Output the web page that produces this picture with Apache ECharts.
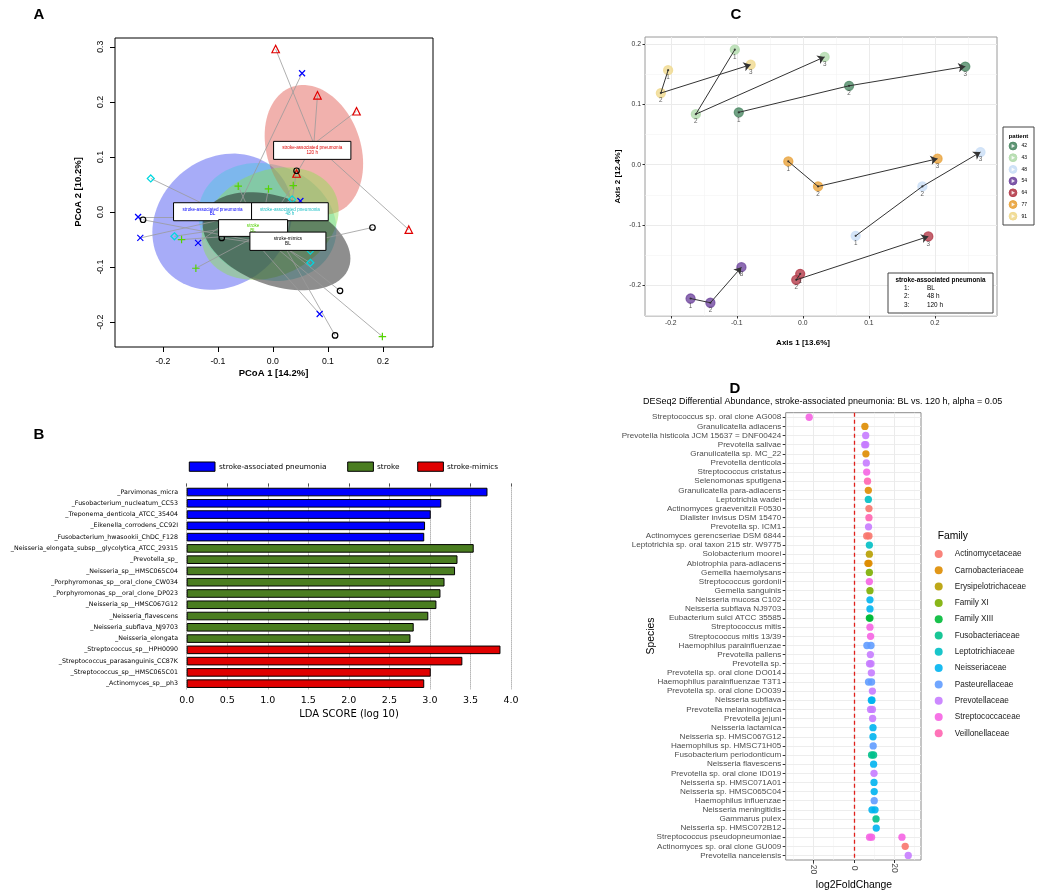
<!DOCTYPE html>
<html><head><meta charset="utf-8">
<script src="https://cdn.jsdelivr.net/npm/echarts@6/dist/echarts.min.js"></script>
<style>html,body{margin:0;padding:0;background:#fff}#c{width:1039px;height:896px}</style>
</head><body><div id="c"></div>
<script>
// ================= Panel A : PCoA =================
const aGroupNames = ['stroke-associated pneumonia BL','stroke-associated pneumonia 48 h','stroke-associated pneumonia 120 h','stroke BL','stroke-mimics BL'];
const aSapBlX = [0.053,-0.245,-0.241,-0.136,0.050,0.085];
const aSapBlY = [0.252,-0.009,-0.047,-0.056,0.020,-0.185];
const aSap48X = [-0.222,-0.179,0.035,0.068,0.068];
const aSap48Y = [0.061,-0.044,0.023,-0.070,-0.092];
const aSap120X = [0.005,0.081,0.152,0.043,0.247];
const aSap120Y = [0.296,0.212,0.183,0.070,-0.032];
const aStrokeX = [-0.063,-0.008,0.037,-0.166,-0.140,0.199];
const aStrokeY = [0.047,0.042,0.048,-0.050,-0.102,-0.226];
const aMimicX = [-0.236,-0.093,0.043,0.181,0.122,0.113];
const aMimicY = [-0.014,-0.047,0.075,-0.028,-0.143,-0.224];
const aCenterX = [-0.072,-0.046,0.0745,-0.0235,0.022];
const aCenterY = [-0.009,-0.024,0.124,-0.040,-0.0635];
const aEllCX = [-0.092,-0.010,0.0745,-0.005,0.0065];
const aEllCY = [-0.0175,-0.018,0.113,-0.021,-0.053];
const aEllA = [0.135,0.128,0.121,0.130,0.140];
const aEllB = [0.115,0.104,0.085,0.095,0.080];
const aEllAng = [40,-20,109,25,-20];
const aLabelX = [-0.1097,0.0309,0.0715,-0.036,0.0273];
const aLabelY = [0.0006,0.0006,0.112,-0.029,-0.053];
const aLabelLine1 = ['stroke-associated pneumonia','stroke-associated pneumonia','stroke-associated pneumonia','stroke','stroke-mimics'];
const aLabelLine2 = ['BL','48 h','120 h','BL','BL'];
const aXTicks = [-0.2,-0.1,0.0,0.1,0.2];
const aYTicks = [-0.2,-0.1,0.0,0.1,0.2,0.3];

// ================= Panel B : LEfSe =================
const bTaxa = ['_Parvimonas_micra','_Fusobacterium_nucleatum_CC53','_Treponema_denticola_ATCC_35404','_Eikenella_corrodens_CC92I','_Fusobacterium_hwasookii_ChDC_F128','_Neisseria_elongata_subsp__glycolytica_ATCC_29315','_Prevotella_sp_','_Neisseria_sp__HMSC065C04','_Porphyromonas_sp__oral_clone_CW034','_Porphyromonas_sp__oral_clone_DP023','_Neisseria_sp__HMSC067G12','_Neisseria_flavescens','_Neisseria_subflava_NJ9703','_Neisseria_elongata','_Streptococcus_sp__HPH0090','_Streptococcus_parasanguinis_CC87K','_Streptococcus_sp__HMSC065C01','_Actinomyces_sp__ph3'];
const bLda = [3.71,3.14,3.01,2.94,2.93,3.54,3.34,3.31,3.18,3.13,3.08,2.98,2.80,2.76,3.87,3.40,3.01,2.93];
const bClass = ['stroke-associated pneumonia','stroke-associated pneumonia','stroke-associated pneumonia','stroke-associated pneumonia','stroke-associated pneumonia','stroke','stroke','stroke','stroke','stroke','stroke','stroke','stroke','stroke','stroke-mimics','stroke-mimics','stroke-mimics','stroke-mimics'];
const bClasses = ['stroke-associated pneumonia','stroke','stroke-mimics'];

// ================= Panel C : patient trajectories =================
const cPatients = ['42','43','48','54','64','77','91'];
const cVisits = ['1','2','3'];
const cAxis1 = [[-0.097,0.070,0.246],[-0.103,-0.162,0.033],[0.080,0.181,0.269],[-0.170,-0.140,-0.093],[-0.004,-0.010,0.190],[-0.022,0.023,0.204],[-0.204,-0.215,-0.079]];
const cAxis2 = [[0.087,0.131,0.163],[0.191,0.084,0.179],[-0.118,-0.036,0.021],[-0.222,-0.229,-0.170],[-0.181,-0.191,-0.119],[0.0055,-0.036,0.010],[0.157,0.119,0.166]];
const cXTicks = [-0.2,-0.1,0.0,0.1,0.2];
const cYTicks = [-0.2,-0.1,0.0,0.1,0.2];
const cXMinor = [-0.15,-0.05,0.05,0.15,0.25];
const cYMinor = [-0.25,-0.15,-0.05,0.05,0.15];
const cVisitNames = ['BL','48 h','120 h'];

// ================= Panel D : DESeq2 =================
const dSpecies = ['Streptococcus sp. oral clone AG008','Granulicatella adiacens','Prevotella histicola JCM 15637 = DNF00424','Prevotella salivae','Granulicatella sp. MC_22','Prevotella denticola','Streptococcus cristatus','Selenomonas sputigena','Granulicatella para-adiacens','Leptotrichia wadei','Actinomyces graevenitzii F0530','Dialister invisus DSM 15470','Prevotella sp. ICM1','Actinomyces gerencseriae DSM 6844','Leptotrichia sp. oral taxon 215 str. W9775','Solobacterium moorei','Abiotrophia para-adiacens','Gemella haemolysans','Streptococcus gordonii','Gemella sanguinis','Neisseria mucosa C102','Neisseria subflava NJ9703','Eubacterium sulci ATCC 35585','Streptococcus mitis','Streptococcus mitis 13/39','Haemophilus parainfluenzae','Prevotella pallens','Prevotella sp.','Prevotella sp. oral clone DO014','Haemophilus parainfluenzae T3T1','Prevotella sp. oral clone DO039','Neisseria subflava','Prevotella melaninogenica','Prevotella jejuni','Neisseria lactamica','Neisseria sp. HMSC067G12','Haemophilus sp. HMSC71H05','Fusobacterium periodonticum','Neisseria flavescens','Prevotella sp. oral clone ID019','Neisseria sp. HMSC071A01','Neisseria sp. HMSC065C04','Haemophilus influenzae','Neisseria meningitidis','Gammarus pulex','Neisseria sp. HMSC072B12','Streptococcus pseudopneumoniae','Actinomyces sp. oral clone GU009','Prevotella nanceiensis'];
const dFamily = ['Streptococcaceae','Carnobacteriaceae','Prevotellaceae','Prevotellaceae','Carnobacteriaceae','Prevotellaceae','Streptococcaceae','Veillonellaceae','Carnobacteriaceae','Leptotrichiaceae','Actinomycetaceae','Veillonellaceae','Prevotellaceae','Actinomycetaceae','Leptotrichiaceae','Erysipelotrichaceae','Carnobacteriaceae','Family XI','Streptococcaceae','Family XI','Neisseriaceae','Neisseriaceae','Family XIII','Streptococcaceae','Streptococcaceae','Pasteurellaceae','Prevotellaceae','Prevotellaceae','Prevotellaceae','Pasteurellaceae','Prevotellaceae','Neisseriaceae','Prevotellaceae','Prevotellaceae','Neisseriaceae','Neisseriaceae','Pasteurellaceae','Fusobacteriaceae','Neisseriaceae','Prevotellaceae','Neisseriaceae','Neisseriaceae','Pasteurellaceae','Neisseriaceae','Fusobacteriaceae','Neisseriaceae','Streptococcaceae','Actinomycetaceae','Prevotellaceae'];
const dLfc = [[-22.1],[5.4],[5.8],[5.3,5.8],[5.9],[6.1],[6.3],[6.7],[7.1],[7.1],[7.4],[7.4],[7.2],[6.3,7.4],[7.6],[7.6],[6.9,7.4],[7.6],[7.6],[7.9],[7.9],[7.9],[7.6,7.9],[7.9],[8.2],[6.4,8.4],[8.1],[7.7,8.4],[8.6],[7.2,8.7],[9.1],[8.6,8.9],[8.2,9.1],[9.2],[9.4],[9.4],[9.5],[8.7,9.7],[9.7],[9.9],[9.9],[10.0],[10.0],[8.9,10.4],[10.9],[11.0],[7.7,8.7,23.7],[25.3],[26.8]];
const dFamilies = ['Actinomycetaceae','Carnobacteriaceae','Erysipelotrichaceae','Family XI','Family XIII','Fusobacteriaceae','Leptotrichiaceae','Neisseriaceae','Pasteurellaceae','Prevotellaceae','Streptococcaceae','Veillonellaceae'];
const dXTicks = [-20,0,20];
const dXMinor = [-30,-10,10,30];

// ================= styles =================
const FONT = '"Liberation Sans", Arial, sans-serif';
const FONTB = '"DejaVu Sans", sans-serif';
const aColors = ['#0000ff','#00d8e0','#e00000','#55d400','#000000'];
const aSymbols = ['path://M0,0L10,10M10,0L0,10','diamond','triangle','path://M5,0L5,10M0,5L10,5','circle'];
const aSizes = [6,7,7.5,7.5,5.5];
const aEllColors = ['rgba(60,70,240,0.45)','rgba(40,205,215,0.33)','rgba(220,60,50,0.40)','rgba(140,225,80,0.45)','rgba(30,30,30,0.50)'];
const aBoxW = [78,76.7,77.3,69,76];
const aBoxH = [18,18,18,16.7,18.3];
const aTextColors = ['#0000ff','#1fc0c6','#e00000','#52d000','#000000'];
const bColors = ['#0000ff','#4a7d20','#e00000'];
const cColors = ['#4f8a66','#b2dbad','#cadff6','#71479f','#b43c4b','#e9a33c','#f0d98f'];
const dColors = ['#F8766D','#DE8C00','#B79F00','#7CAE00','#00BA38','#00C08B','#00BFC4','#00B4F0','#619CFF','#C77CFF','#F564E3','#FF64B0'];

const fmt1 = v => (Math.abs(v) < 1e-9 ? 0 : v).toFixed(1);
const NOLINE = {show:false, onZero:false};

// ---------- series ----------
const series = [];
// A ellipses
series.push({
  type:'custom', xAxisIndex:0, yAxisIndex:0, z:1, silent:true, clip:true,
  data: aEllCX.map((x,i)=>[x, aEllCY[i], aEllA[i], aEllB[i], aEllAng[i]]),
  renderItem:(params, api)=>{
    const cx=api.value(0), cy=api.value(1), a=api.value(2), b=api.value(3), ang=api.value(4)*Math.PI/180;
    const pts=[];
    for(let k=0;k<90;k++){
      const t=k/90*2*Math.PI;
      const x=cx+a*Math.cos(t)*Math.cos(ang)-b*Math.sin(t)*Math.sin(ang);
      const y=cy+a*Math.cos(t)*Math.sin(ang)+b*Math.sin(t)*Math.cos(ang);
      pts.push(api.coord([x,y]));
    }
    return {type:'polygon', shape:{points:pts}, style:{fill:aEllColors[params.dataIndex]}};
  }
});
// A spider lines
const aPts = [[aSapBlX,aSapBlY],[aSap48X,aSap48Y],[aSap120X,aSap120Y],[aStrokeX,aStrokeY],[aMimicX,aMimicY]];
const spider = [];
aPts.forEach((g,gi)=>g[0].forEach((x,k)=>spider.push({coords:[[x,g[1][k]],[aCenterX[gi],aCenterY[gi]]]})));
series.push({type:'lines', coordinateSystem:'cartesian2d', xAxisIndex:0, yAxisIndex:0, z:2, silent:true,
  lineStyle:{color:'#9a9a9a', width:0.8, opacity:1}, data:spider});
// A points
aPts.forEach((g,gi)=>{
  series.push({type:'scatter', name:aGroupNames[gi], xAxisIndex:0, yAxisIndex:0, z:3, silent:true,
    symbol:aSymbols[gi], symbolSize:aSizes[gi],
    itemStyle:{color:'transparent', borderColor:aColors[gi], borderWidth:1.2, opacity:1},
    data:g[0].map((x,k)=>[x,g[1][k]])});
});
// A label boxes
series.push({
  type:'custom', xAxisIndex:0, yAxisIndex:0, z:5, silent:true, clip:false,
  data: aLabelX.map((x,i)=>[x, aLabelY[i]]),
  renderItem:(params, api)=>{
    const i=params.dataIndex; const p=api.coord([api.value(0), api.value(1)]);
    const w=aBoxW[i], h=aBoxH[i];
    return {type:'group', children:[
      {type:'rect', shape:{x:p[0]-w/2, y:p[1]-h/2, width:w, height:h}, style:{fill:'#fff', stroke:'#000', lineWidth:1}},
      {type:'text', style:{text:aLabelLine1[i], x:p[0], y:p[1]-2.4, align:'center', verticalAlign:'middle', fill:aTextColors[i], font:'4.6px "Liberation Sans", Arial'}},
      {type:'text', style:{text:aLabelLine2[i], x:p[0], y:p[1]+2.4, align:'center', verticalAlign:'middle', fill:aTextColors[i], font:'4.6px "Liberation Sans", Arial'}}
    ]};
  }
});

// B bars
bClasses.forEach((cls,ci)=>{
  series.push({type:'bar', name:cls, xAxisIndex:1, yAxisIndex:1, barWidth:8.6, barGap:'-100%', z:3, silent:true,
    itemStyle:{color:bColors[ci], borderColor:'#000', borderWidth:1},
    data:bLda.map((v,i)=> bClass[i]===cls ? v : null)});
});

// C grid lines
const cGrid = [];
cXMinor.forEach(v=>cGrid.push({xAxis:v, lineStyle:{color:'#f4f4f4', width:0.6, type:'solid'}}));
cYMinor.forEach(v=>cGrid.push({yAxis:v, lineStyle:{color:'#f4f4f4', width:0.6, type:'solid'}}));
cXTicks.forEach(v=>cGrid.push({xAxis:v, lineStyle:{color:'#ebebeb', width:1, type:'solid'}}));
cYTicks.forEach(v=>cGrid.push({yAxis:v, lineStyle:{color:'#ebebeb', width:1, type:'solid'}}));
series.push({type:'scatter', xAxisIndex:3, yAxisIndex:2, z:1, silent:true, data:[],
  markLine:{z:1, silent:true, symbol:'none', label:{show:false}, animation:false, data:cGrid}});
// C points
cPatients.forEach((p,pi)=>{
  series.push({type:'scatter', name:'patient '+p, xAxisIndex:3, yAxisIndex:2, z:2, silent:true,
    symbolSize:9,
    itemStyle:{color:cColors[pi], opacity:0.8, borderColor:cColors[pi], borderWidth:1.3},
    label:{show:true, position:'inside', offset:[0,7.5], formatter:q=>cVisits[q.dataIndex], fontSize:6.3, color:'#333', fontFamily:FONT},
    data:cAxis1[pi].map((x,k)=>[x,cAxis2[pi][k]])});
});
// C path segments
const cSeg1 = [], cSeg2 = [], cDots = [];
cPatients.forEach((p,pi)=>{
  cSeg1.push({coords:[[cAxis1[pi][0],cAxis2[pi][0]],[cAxis1[pi][1],cAxis2[pi][1]]]});
  cSeg2.push({coords:[[cAxis1[pi][1],cAxis2[pi][1]],[cAxis1[pi][2],cAxis2[pi][2]]]});
  cDots.push([cAxis1[pi][0],cAxis2[pi][0]],[cAxis1[pi][1],cAxis2[pi][1]]);
});
series.push({type:'lines', coordinateSystem:'cartesian2d', xAxisIndex:3, yAxisIndex:2, z:3, silent:true,
  symbol:['none','none'], lineStyle:{color:'#333', width:1, opacity:1}, data:cSeg1});
series.push({type:'lines', coordinateSystem:'cartesian2d', xAxisIndex:3, yAxisIndex:2, z:3, silent:true,
  symbol:['none','arrow'], symbolSize:7, lineStyle:{color:'#333', width:1, opacity:1}, data:cSeg2});
series.push({type:'scatter', xAxisIndex:3, yAxisIndex:2, z:4, silent:true, symbolSize:2.2,
  itemStyle:{color:'#222'}, data:cDots});

// D grid lines
const dGrid = [];
dXMinor.forEach(v=>dGrid.push({xAxis:v, lineStyle:{color:'#f3f3f3', width:0.6, type:'solid'}}));
dXTicks.forEach(v=>dGrid.push({xAxis:v, lineStyle:{color:'#ebebeb', width:1, type:'solid'}}));
dSpecies.forEach(s=>dGrid.push({yAxis:s, lineStyle:{color:'#ebebeb', width:0.9, type:'solid'}}));
series.push({type:'scatter', xAxisIndex:4, yAxisIndex:3, z:1, silent:true, data:[],
  markLine:{z:1, silent:true, symbol:'none', label:{show:false}, animation:false, data:dGrid}});
series.push({type:'scatter', xAxisIndex:4, yAxisIndex:3, z:2, silent:true, data:[],
  markLine:{z:2, silent:true, symbol:'none', label:{show:false}, animation:false,
    data:[{xAxis:0, lineStyle:{color:'#e0201b', width:1.3, type:[4,3]}}]}});
dFamilies.forEach((fam,fi)=>{
  const pts=[];
  dSpecies.forEach((s,i)=>{ if(dFamily[i]===fam) dLfc[i].forEach(v=>pts.push([v,s])); });
  series.push({type:'scatter', name:fam, xAxisIndex:4, yAxisIndex:3, z:4, silent:true,
    symbolSize:7.3, itemStyle:{color:dColors[fi], opacity:0.9}, data:pts});
});

// ---------- graphics ----------
const G = [];
function txt(text, x, y, font, o={}){
  G.push({type:'text', x:x, y:y, rotation:o.rot||0, z:100, silent:true,
    style:{text:text, font:font, fill:o.fill||'#000', align:o.align||'center', verticalAlign:o.va||'middle',
      textAlign:o.align||'center', textVerticalAlign:o.va||'middle'}});
}
txt('A', 39, 15, 'bold 15px "Liberation Sans", Arial');
txt('B', 39, 435, 'bold 15px "Liberation Sans", Arial');
txt('C', 736, 15, 'bold 15px "Liberation Sans", Arial');
txt('D', 735, 389, 'bold 15px "Liberation Sans", Arial');
// A titles
txt('PCoA 1 [14.2%]', 273.5, 373, 'bold 9.5px "Liberation Sans", Arial');
txt('PCoA 2 [10.2%]', 78, 192, 'bold 9.5px "Liberation Sans", Arial', {rot:Math.PI/2});
// B legend & title
const bLegX = [189.3, 347.7, 417.7];
const bLegTX = [219, 377, 447];
bClasses.forEach((c,ci)=>{
  G.push({type:'rect', z:100, silent:true, shape:{x:bLegX[ci], y:462, width:25.7, height:9.3}, style:{fill:bColors[ci], stroke:'#000', lineWidth:1}});
  txt(c, bLegTX[ci], 467, '7.3px "DejaVu Sans", sans-serif', {align:'left'});
});
txt('LDA SCORE (log 10)', 349, 714, '10px "DejaVu Sans", sans-serif');
// C titles & legends
txt('Axis 1 [13.6%]', 803, 343, 'bold 8px "Liberation Sans", Arial');
txt('Axis 2 [12.4%]', 618, 176.5, 'bold 8px "Liberation Sans", Arial', {rot:Math.PI/2});
G.push({type:'rect', z:100, silent:true, shape:{x:888, y:273, width:105, height:40}, style:{fill:'#fff', stroke:'#444', lineWidth:1}});
txt('stroke-associated pneumonia', 940.5, 280, 'bold 6.4px "Liberation Sans", Arial');
cVisitNames.forEach((n,i)=>{
  txt(cVisits[i]+':', 904, 288.3+i*8.4, '6.4px "Liberation Sans", Arial', {align:'left'});
  txt(n, 927, 288.3+i*8.4, '6.4px "Liberation Sans", Arial', {align:'left'});
});
G.push({type:'rect', z:100, silent:true, shape:{x:1003, y:127, width:31, height:98}, style:{fill:'#fff', stroke:'#444', lineWidth:1}});
txt('patient', 1018.5, 136, 'bold 6px "Liberation Sans", Arial');
cPatients.forEach((p,i)=>{
  const y = 146 + i*11.7;
  G.push({type:'circle', z:100, silent:true, shape:{cx:1013, cy:y, r:3.9}, style:{fill:cColors[i], stroke:cColors[i], lineWidth:1, opacity:0.9}});
  G.push({type:'polygon', z:101, silent:true, shape:{points:[[1011.6,y-2],[1011.6,y+2],[1015,y]]}, style:{fill:'#fff', opacity:0.85}});
  txt(p, 1021.5, y, '5px "Liberation Sans", Arial', {align:'left'});
});
// D titles
txt('DESeq2 Differential Abundance, stroke-associated pneumonia: BL vs. 120 h, alpha = 0.05', 643, 402, '9px "Liberation Sans", Arial', {align:'left'});
txt('Species', 651, 636, '10.4px "Liberation Sans", Arial', {rot:Math.PI/2});
txt('log2FoldChange', 854, 885, '10.4px "Liberation Sans", Arial');
txt('Family', 937.7, 536, '10.3px "Liberation Sans", Arial', {align:'left'});

// ---------- option ----------
const option = {
  animation:false, backgroundColor:'#fff', textStyle:{fontFamily:FONT},
  grid:[
    {left:115, top:38, width:318, height:309, show:true, borderColor:'#000', borderWidth:1},
    {left:186.7, top:486.4, width:324.3, height:202.9, show:false},
    {left:645, top:37, width:352, height:279, show:true, borderColor:'#9a9a9a', borderWidth:1},
    {left:785.7, top:412.7, width:135.3, height:447.3, show:true, borderColor:'#8c8c8c', borderWidth:1}
  ],
  xAxis:[
    {gridIndex:0, type:'value', min:-0.287, max:0.291, axisLine:NOLINE, splitLine:{show:false},
      axisTick:{show:true, customValues:aXTicks, length:5, lineStyle:{color:'#000'}},
      axisLabel:{customValues:aXTicks, formatter:fmt1, fontSize:8.7, color:'#000', margin:10, fontFamily:FONT}},
    {gridIndex:1, type:'value', min:0, max:4, interval:0.5, position:'bottom', axisLine:NOLINE, axisTick:{show:false},
      splitLine:{show:true, lineStyle:{type:'dotted', color:'#8a8a8a', width:1}},
      axisLabel:{formatter:fmt1, fontSize:9.5, fontFamily:FONTB, color:'#000', margin:6}},
    {gridIndex:1, type:'value', min:0, max:4, interval:0.5, position:'top', axisLine:NOLINE,
      axisTick:{show:true, length:3, lineStyle:{color:'#555'}}, axisLabel:{show:false}, splitLine:{show:false}},
    {gridIndex:2, type:'value', min:-0.239, max:0.294, axisLine:NOLINE, splitLine:{show:false},
      axisTick:{show:true, customValues:cXTicks, length:2.5, lineStyle:{color:'#333'}},
      axisLabel:{customValues:cXTicks, formatter:fmt1, fontSize:6.8, color:'#333', margin:4, fontFamily:FONT}},
    {gridIndex:3, type:'value', min:-33.7, max:33.1, axisLine:NOLINE, splitLine:{show:false},
      axisTick:{show:true, customValues:dXTicks, length:3, lineStyle:{color:'#333'}},
      axisLabel:{customValues:dXTicks, formatter:v=>String(Math.round(v)), rotate:-90, align:'center', verticalAlign:'middle',
        fontSize:8.5, color:'#4d4d4d', margin:8, fontFamily:FONT}}
  ],
  yAxis:[
    {gridIndex:0, type:'value', min:-0.245, max:0.316, axisLine:NOLINE, splitLine:{show:false},
      axisTick:{show:true, customValues:aYTicks, length:5, lineStyle:{color:'#000'}},
      axisLabel:{customValues:aYTicks, formatter:fmt1, rotate:90, fontSize:8.7, color:'#000', margin:10, fontFamily:FONT}},
    {gridIndex:1, type:'category', inverse:true, data:bTaxa, axisLine:NOLINE, axisTick:{show:false}, splitLine:{show:false},
      axisLabel:{interval:0, fontSize:6.3, fontFamily:FONTB, color:'#000', margin:8.7}},
    {gridIndex:2, type:'value', min:-0.251, max:0.212, axisLine:NOLINE, splitLine:{show:false},
      axisTick:{show:true, customValues:cYTicks, length:2.5, lineStyle:{color:'#333'}},
      axisLabel:{customValues:cYTicks, formatter:fmt1, fontSize:6.8, color:'#333', margin:4, fontFamily:FONT}},
    {gridIndex:3, type:'category', inverse:true, data:dSpecies, axisLine:NOLINE, splitLine:{show:false},
      axisTick:{show:true, interval:0, alignWithLabel:true, length:3, lineStyle:{color:'#333'}},
      axisLabel:{interval:0, fontSize:8.1, color:'#4d4d4d', margin:4.5, fontFamily:FONT}}
  ],
  legend:{data:dFamilies, orient:'vertical', left:934.7, top:549, itemWidth:22, itemHeight:8, itemGap:6.3, padding:0,
    icon:'circle', selectedMode:false, textStyle:{fontSize:8.2, color:'#1a1a1a', fontFamily:FONT, lineHeight:10}},
  graphic:{elements:G},
  series:series
};
const chart = echarts.init(document.getElementById('c'));
chart.setOption(option);
</script>
</body></html>
